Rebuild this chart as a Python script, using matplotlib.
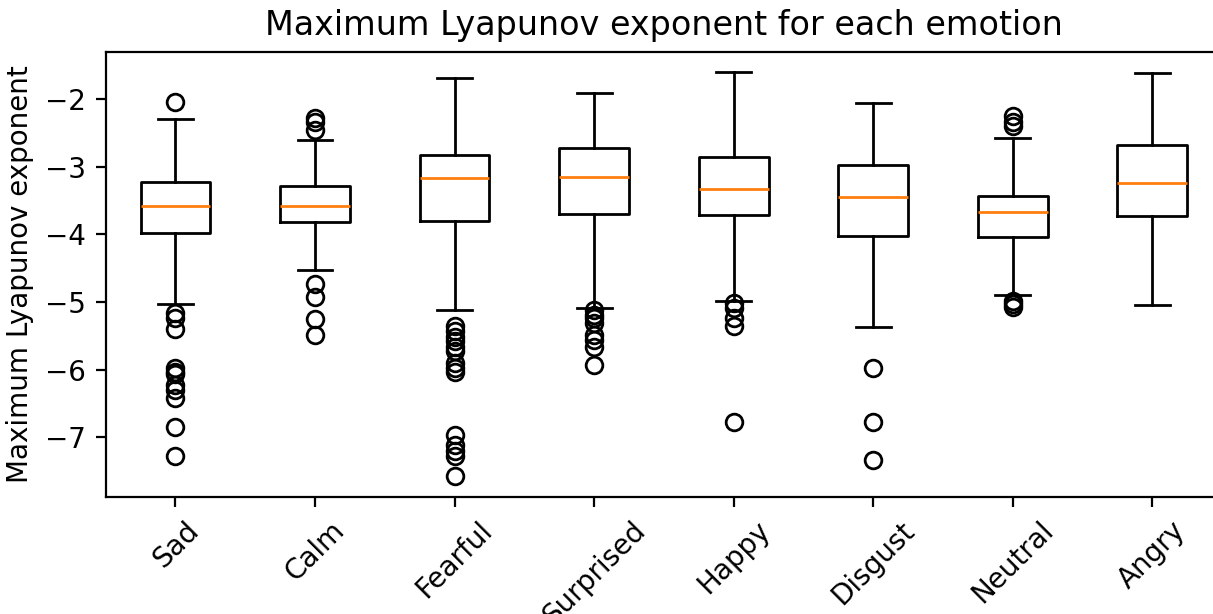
import matplotlib
matplotlib.use('Agg')
import matplotlib.pyplot as plt

emotions = ['Sad', 'Calm', 'Fearful', 'Surprised', 'Happy', 'Disgust', 'Neutral', 'Angry']

whishi = [-2.29, -2.61, -1.69, -1.91, -1.60, -2.05, -2.57, -1.61]
q3 = [-3.22, -3.29, -2.83, -2.72, -2.85, -2.97, -3.43, -2.68]
med = [-3.58, -3.58, -3.17, -3.15, -3.33, -3.44, -3.67, -3.24]
q1 = [-3.98, -3.82, -3.80, -3.69, -3.71, -4.02, -4.04, -3.72]
whislo = [-5.03, -4.53, -5.11, -5.09, -4.98, -5.37, -4.90, -5.04]

fliers = [
	[-2.04, -5.16, -5.24, -5.40, -5.98, -6.03, -6.06, -6.22, -6.30, -6.42, -6.85, -7.28],
	[-2.28, -2.33, -2.46, -4.74, -4.93, -5.25, -5.49],
	[-5.36, -5.43, -5.51, -5.58, -5.66, -5.73, -5.90, -5.98, -6.03, -6.96, -7.11, -7.21, -7.28, -7.58],
	[-5.12, -5.19, -5.24, -5.31, -5.48, -5.56, -5.67, -5.93],
	[-5.01, -5.09, -5.24, -5.35, -6.78],
	[-5.98, -6.78, -7.34],
	[-2.25, -2.34, -2.39, -4.98, -5.03, -5.07],
	[],
]

stats = []
for i in range(len(emotions)):
	stats.append({'label': emotions[i], 'whislo': whislo[i], 'q1': q1[i], 'med': med[i],
				  'q3': q3[i], 'whishi': whishi[i], 'fliers': fliers[i]})

dpi = 200
fig = plt.figure(figsize=(1213/dpi, 614/dpi), dpi=dpi)
ax = fig.add_axes([105.7/1213, 1-496.7/614, (1222-105.7)/1213, (496.7-52)/614])
ax.bxp(stats)
ax.set_title('Maximum Lyapunov exponent for each emotion')
ax.set_ylabel('Maximum Lyapunov exponent')
plt.setp(ax.get_xticklabels(), rotation=45)

fig.savefig('out.png', dpi=dpi)
